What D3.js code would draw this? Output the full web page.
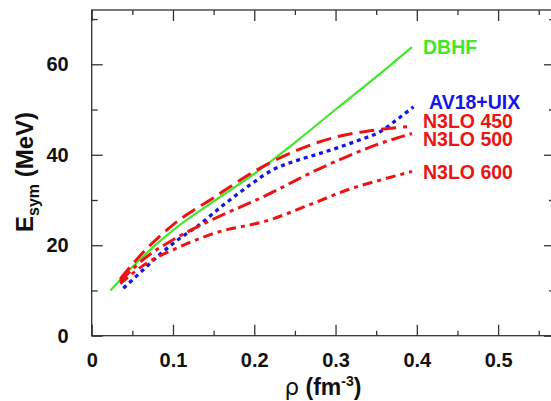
<!DOCTYPE html>
<html>
<head>
<meta charset="utf-8">
<script src="https://cdn.jsdelivr.net/npm/d3@7"></script>
<style>
  body { margin: 0; background: #fff; }
  svg { display: block; font-family: "Liberation Sans", Arial, sans-serif; }
</style>
</head>
<body>
<div id="chart"></div>
<script>
// density (fm^-3) and symmetry energy (MeV)
var dbhfRho = [0.023, 0.05, 0.08, 0.1, 0.15, 0.2, 0.25, 0.3, 0.35, 0.394];
var dbhfE   = [10.0, 15.2, 20.3, 23.3, 29.7, 35.8, 42.7, 50.0, 57.2, 63.8];

var av18Rho = [0.039, 0.06, 0.084, 0.109, 0.13, 0.16, 0.2, 0.221, 0.25, 0.281, 0.33, 0.355, 0.375, 0.396];
var av18E   = [10.5, 14.0, 18.0, 21.6, 24.2, 28.6, 34.0, 36.5, 38.6, 40.3, 43.3, 45.1, 47.7, 50.6];

var n450Rho = [0.035, 0.06, 0.1, 0.15, 0.2, 0.25, 0.3, 0.35, 0.388];
var n450E   = [12.5, 17.8, 24.5, 30.5, 36.3, 40.8, 43.9, 45.5, 46.2];

var n500Rho = [0.035, 0.068, 0.1, 0.15, 0.211, 0.273, 0.314, 0.355, 0.394];
var n500E   = [12.0, 17.5, 21.2, 25.8, 30.7, 36.3, 39.6, 42.5, 44.7];

var n600Rho = [0.035, 0.064, 0.109, 0.15, 0.219, 0.273, 0.314, 0.355, 0.394];
var n600E   = [11.5, 15.6, 19.7, 22.6, 25.6, 29.3, 32.2, 34.4, 36.3];

var seriesNames = ["DBHF", "AV18+UIX", "N3LO 450", "N3LO 500", "N3LO 600"];
var xMajor = [0, 0.1, 0.2, 0.3, 0.4, 0.5];
var xMinor = [0.05, 0.15, 0.25, 0.35, 0.45, 0.55];
var yMajor = [0, 20, 40, 60];
var yMinor = [10, 30, 50, 70];

var W = 551, H = 401;
var mLeft = 91.7, mRight = 555, mTop = 10, mBottom = 335.7;

var x = d3.scaleLinear().domain([0, 0.57]).range([mLeft, mRight]);
var y = d3.scaleLinear().domain([0, 72]).range([mBottom, mTop]);

var svg = d3.select("#chart").append("svg")
    .attr("width", W)
    .attr("height", H);

var axisColor = "#333";

function styleAxis(g){
    g.select(".domain").remove();
    g.selectAll(".tick line").attr("stroke", axisColor).attr("stroke-width", 1.3);
    g.selectAll(".tick text")
        .attr("fill", "#111")
        .style("font-size", "20px")
        .style("font-weight", "bold");
}

// bottom
svg.append("g").attr("transform", "translate(0," + mBottom + ")")
    .call(d3.axisBottom(x).tickValues(xMajor).tickSize(-11).tickPadding(17)
        .tickFormat(function(d){ return d === 0 ? "0" : d3.format(".1f")(d); }))
    .call(styleAxis);
svg.append("g").attr("transform", "translate(0," + mBottom + ")")
    .call(d3.axisBottom(x).tickValues(xMinor).tickSize(-5).tickFormat(""))
    .call(styleAxis);
// top
svg.append("g").attr("transform", "translate(0," + mTop + ")")
    .call(d3.axisTop(x).tickValues(xMajor).tickSize(-11).tickFormat(""))
    .call(styleAxis);
svg.append("g").attr("transform", "translate(0," + mTop + ")")
    .call(d3.axisTop(x).tickValues(xMinor).tickSize(-5).tickFormat(""))
    .call(styleAxis);
// left
svg.append("g").attr("transform", "translate(" + mLeft + ",0)")
    .call(d3.axisLeft(y).tickValues(yMajor).tickSize(-11).tickPadding(23))
    .call(styleAxis);
svg.append("g").attr("transform", "translate(" + mLeft + ",0)")
    .call(d3.axisLeft(y).tickValues(yMinor).tickSize(-6).tickFormat(""))
    .call(styleAxis);
// right
svg.append("g").attr("transform", "translate(" + mRight + ",0)")
    .call(d3.axisRight(y).tickValues(yMajor).tickSize(-11).tickFormat(""))
    .call(styleAxis);
svg.append("g").attr("transform", "translate(" + mRight + ",0)")
    .call(d3.axisRight(y).tickValues(yMinor).tickSize(-6).tickFormat(""))
    .call(styleAxis);

// frame
svg.append("rect")
    .attr("x", mLeft).attr("y", mTop)
    .attr("width", mRight - mLeft).attr("height", mBottom - mTop)
    .attr("fill", "none").attr("stroke", axisColor).attr("stroke-width", 1.3);

var line = d3.line()
    .x(function(d){ return x(d[0]); })
    .y(function(d){ return y(d[1]); })
    .curve(d3.curveMonotoneX);

function pts(r, e){ return r.map(function(v, i){ return [v, e[i]]; }); }

var series = [
    {name: seriesNames[0], data: pts(dbhfRho, dbhfE), color: "#3fe82a", width: 2.2, dash: null,
     lx: 423, ly: 54},
    {name: seriesNames[1], data: pts(av18Rho, av18E), color: "#1414e6", width: 3.3, dash: "4,4",
     lx: 429, ly: 109},
    {name: seriesNames[2], data: pts(n450Rho, n450E), color: "#ee1313", width: 3, dash: "15,7",
     lx: 423, ly: 128},
    {name: seriesNames[3], data: pts(n500Rho, n500E), color: "#ee1313", width: 3, dash: "14,5,4,5",
     lx: 423, ly: 146},
    {name: seriesNames[4], data: pts(n600Rho, n600E), color: "#ee1313", width: 3, dash: "10,5,4,5",
     lx: 423, ly: 179}
];

series.forEach(function(s){
    var p = svg.append("path")
        .attr("d", line(s.data))
        .attr("fill", "none")
        .attr("stroke", s.color)
        .attr("stroke-width", s.width);
    if(s.dash) p.attr("stroke-dasharray", s.dash);

    svg.append("text")
        .attr("x", s.lx).attr("y", s.ly)
        .attr("fill", s.color)
        .style("font-size", "19.5px")
        .style("font-weight", "bold")
        .text(s.name);
});

// x title
var xt = svg.append("text")
    .attr("x", 323).attr("y", 395)
    .attr("text-anchor", "middle")
    .attr("fill", "#111")
    .style("font-size", "23px")
    .style("font-weight", "bold");
xt.append("tspan").style("font-weight", "normal").style("font-family", "'DejaVu Sans', sans-serif").text("\u03C1");
xt.append("tspan").text(" (fm");
xt.append("tspan").attr("dy", -9).style("font-size", "14px").text("-3");
xt.append("tspan").attr("dy", 9).text(")");

// y title
var yt = svg.append("text")
    .attr("transform", "translate(33,172) rotate(-90)")
    .attr("text-anchor", "middle")
    .attr("fill", "#111")
    .style("font-size", "24px")
    .style("font-weight", "bold");
yt.append("tspan").text("E");
yt.append("tspan").attr("dy", 6).style("font-size", "16px").text("sym");
yt.append("tspan").attr("dy", -6).text(" (MeV)");
</script>
</body>
</html>
